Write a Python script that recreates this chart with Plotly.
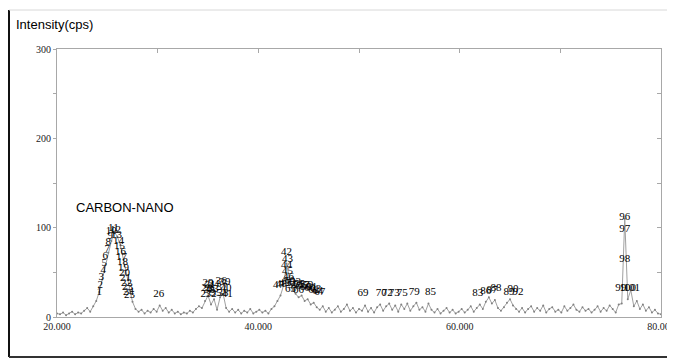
import plotly.graph_objects as go

# ---- data ----
scan_start = 20.0
scan_step = 0.3
intensity = [
    4, 3, 5, 2, 4, 6, 3, 5, 4, 7,
    10, 6, 12, 18, 28, 42, 58, 72, 85, 95,
    90, 80, 64, 47, 30, 17, 9, 6, 8, 4,
    7, 5, 9, 6, 13, 7, 10, 5, 8, 4,
    6, 3, 5, 4, 7, 5, 9, 12, 10, 18,
    24, 14, 20, 8, 22, 26, 10, 6, 9, 5,
    8, 4, 7, 5, 9, 4, 6, 8, 5, 7,
    4, 9, 12, 18, 24, 35, 60, 42, 30, 26,
    22, 24, 18, 20, 14, 16, 11, 8, 12, 6,
    10, 5, 8, 12, 6, 9, 14, 7, 10, 5,
    9, 7, 13, 6, 10, 5, 11, 14, 7, 12,
    15, 8, 13, 6, 14, 9, 15, 7, 12, 16,
    8, 11, 6, 15, 8, 5, 9, 4, 7, 10,
    5, 8, 4, 6, 9, 5, 8, 12, 6, 10,
    14, 9, 17, 22, 15, 19, 10, 7, 11, 16,
    20, 13, 9, 6, 10, 5, 9, 12, 6, 10,
    7, 13, 5, 9, 11, 6, 8, 5, 12, 7,
    10, 14, 8, 6, 11, 7, 9, 5, 8, 12,
    6, 10, 7, 13, 9, 5, 14, 15, 110, 20,
    30, 12, 18, 9, 14, 7, 11, 5, 8, 4,
    3,
]
two_theta = [round(scan_start + scan_step * i, 1) for i in range(len(intensity))]

peak_no = [
    "1", "2", "3", "4", "5", "6", "7", "8", "9", "10", "11", "12", "13",
    "14", "15", "16", "17", "18", "19", "20", "21", "22", "23", "24", "25",
    "26",
    "27", "28", "29", "30", "31", "32", "33", "34", "35", "36", "37", "38", "39", "40", "41",
    "42", "43", "44", "45", "46", "47", "48", "49", "50", "51", "52", "53", "54", "55",
    "56", "57", "58", "59", "60", "61", "62", "63", "64", "65", "66", "67",
    "69", "70", "72", "73", "75", "79", "85",
    "83", "86", "87", "88", "89", "90", "92",
    "96", "97", "98", "99", "100", "101",
]
peak_2theta = [
    24.2, 24.3, 24.4, 24.6, 24.7, 24.8, 25.0, 25.1, 25.3, 25.4, 25.6, 25.8, 25.9,
    26.1, 26.2, 26.3, 26.4, 26.5, 26.6, 26.7, 26.8, 26.9, 27.0, 27.1, 27.2,
    30.1,
    34.8, 34.9, 35.0, 35.1, 35.2, 35.3, 35.5, 35.6, 35.8, 36.3, 36.4, 36.5, 36.7, 36.8, 36.9,
    42.8, 42.9, 42.8, 42.9, 43.0, 42.0, 42.3, 42.6, 43.1, 43.3, 43.5, 43.7, 43.9, 44.1,
    44.3, 44.5, 44.7, 44.9, 45.1, 45.3, 45.5, 45.7, 45.9, 43.2, 44.0, 46.1,
    50.4, 52.2, 52.8, 53.5, 54.3, 55.5, 57.1,
    61.8, 62.6, 63.2, 63.6, 64.9, 65.3, 65.8,
    76.4, 76.4, 76.4, 76.0, 76.7, 77.1,
]
peak_label_y = [
    28, 36, 44, 52, 60, 68, 76, 84, 90, 96, 99, 97, 91,
    85, 79, 73, 67, 61, 55, 49, 43, 38, 33, 28, 24,
    25,
    26, 32, 38, 30, 35, 26, 31, 37, 27, 40, 33, 27, 39, 32, 25,
    72, 65, 58, 51, 45, 35, 37, 38, 40, 38, 36, 39, 35, 37,
    34, 36, 33, 35, 32, 33, 30, 31, 29, 31, 30, 28,
    27, 27, 27, 27, 27, 28, 28,
    27, 29, 30, 32, 28, 31, 28,
    112, 98, 65, 32, 32, 32,
]

x_ticks = [20, 40, 60, 80]
x_tick_text = ["20.000", "40.000", "60.000", "80.000"]
y_ticks = [0, 50, 100, 150, 200, 250, 300]
y_tick_text = ["0", "", "100", "", "200", "", "300"]
top_ticks = [20, 30, 40, 50, 60, 70, 80]

# ---- figure (page body has an 8px margin, so the figure starts at 8,8) ----
OFF = 8
W, H = 675 - OFF, 359 - OFF
ML, MR, MT, MB = 57 - OFF, 14, 49 - OFF, 42
PW, PH = W - ML - MR, H - MT - MB


def px_x(px):
    return (px - OFF - ML) / PW


def px_y(py):
    return (H - MB - (py - OFF)) / PH


axis_col = "#a8a8a8"
serif = "Liberation Serif"

fig = go.Figure()
fig.add_trace(go.Scatter(
    x=two_theta, y=intensity, mode="lines+markers",
    line=dict(color="#a0a0a0", width=1),
    marker=dict(color="#808080", size=2),
    showlegend=False, hoverinfo="skip",
))
fig.add_trace(go.Scatter(
    x=peak_2theta, y=peak_label_y, mode="text", text=peak_no,
    textposition="middle center",
    textfont=dict(family=serif, size=11, color="#000000"),
    showlegend=False, hoverinfo="skip",
))
fig.add_trace(go.Scatter(
    x=[two_theta[0]], y=[intensity[0]], xaxis="x2", yaxis="y2",
    mode="markers", marker=dict(opacity=0), showlegend=False, hoverinfo="skip",
))

fig.update_layout(
    width=W, height=H,
    margin=dict(l=ML, r=MR, t=MT, b=MB, pad=0, autoexpand=False),
    paper_bgcolor="white", plot_bgcolor="white",
    xaxis=dict(
        range=[20, 80], tickvals=x_ticks, ticktext=x_tick_text,
        showline=True, linecolor=axis_col, linewidth=1, ticks="",
        showgrid=False, zeroline=False, automargin=False,
        tickfont=dict(family=serif, size=10, color="#222222"),
    ),
    yaxis=dict(
        range=[0, 300], tickvals=y_ticks, ticktext=y_tick_text,
        showline=True, linecolor=axis_col, linewidth=1,
        ticks="outside", ticklen=3, tickcolor=axis_col,
        showgrid=False, zeroline=False, automargin=False,
        tickfont=dict(family=serif, size=10, color="#222222"),
    ),
    xaxis2=dict(
        overlaying="x", side="top", range=[20, 80], tickvals=top_ticks,
        ticks="inside", ticklen=4, tickcolor=axis_col, showticklabels=False,
        showline=True, linecolor=axis_col, linewidth=1,
        showgrid=False, zeroline=False, automargin=False,
    ),
    yaxis2=dict(
        overlaying="y", side="right", range=[0, 300], tickvals=y_ticks,
        ticks="inside", ticklen=4, tickcolor=axis_col, showticklabels=False,
        showline=True, linecolor=axis_col, linewidth=1,
        showgrid=False, zeroline=False, automargin=False,
    ),
    annotations=[
        dict(text="Intensity(cps)", xref="paper", yref="paper",
             x=px_x(14), y=px_y(25), xanchor="left", yanchor="middle",
             showarrow=False, font=dict(family="Liberation Sans", size=13, color="#000")),
        dict(text="CARBON-NANO", xref="x", yref="y", x=26.75, y=123,
             xanchor="center", yanchor="middle", showarrow=False,
             font=dict(family="Liberation Sans", size=13, color="#000")),
    ],
    shapes=[
        dict(type="line", xref="paper", yref="paper",
             x0=px_x(9), x1=px_x(9), y0=px_y(10), y1=px_y(357),
             line=dict(color="#111111", width=2)),
        dict(type="line", xref="paper", yref="paper",
             x0=px_x(9), x1=px_x(675), y0=px_y(357), y1=px_y(357),
             line=dict(color="#333333", width=2)),
        dict(type="line", xref="paper", yref="paper",
             x0=px_x(9), x1=px_x(675), y0=px_y(10), y1=px_y(10),
             line=dict(color="#d8d8d8", width=1)),
    ],
)

fig.write_html("out.html")
